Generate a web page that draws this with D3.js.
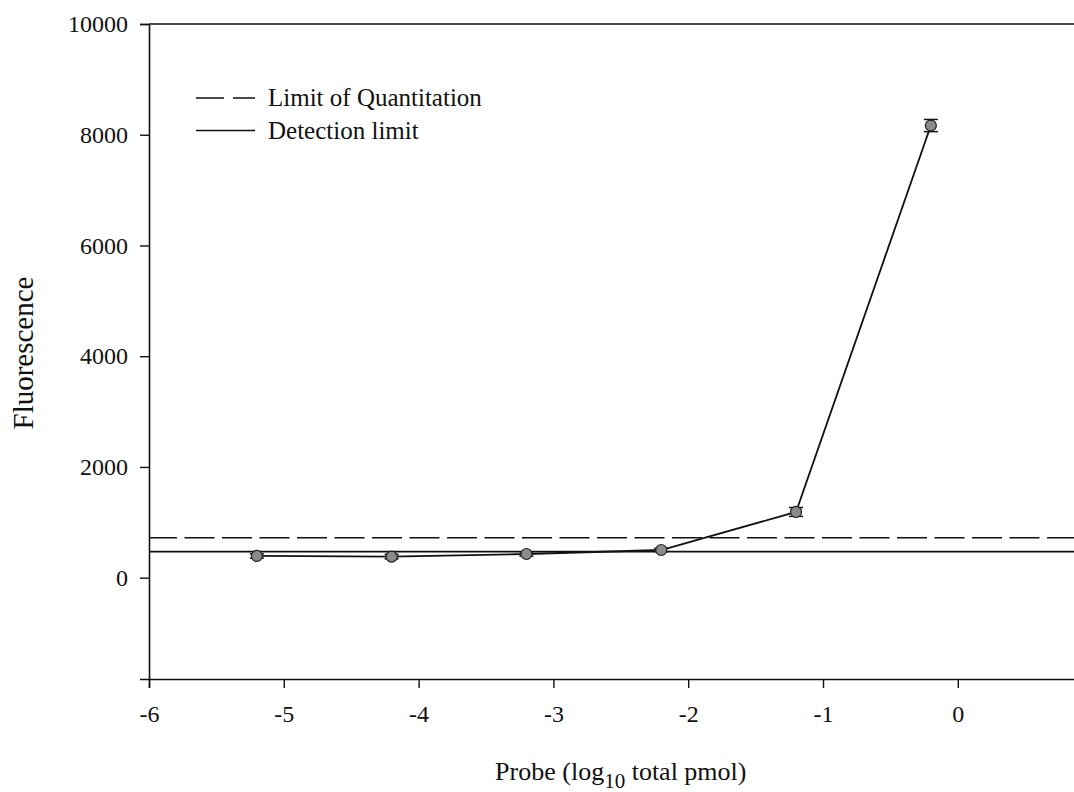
<!DOCTYPE html>
<html>
<head>
<meta charset="utf-8">
<script src="https://cdn.jsdelivr.net/npm/d3@7"></script>
<style>
  html, body { margin: 0; padding: 0; background: #fff; }
  svg { display: block; }
  text { font-family: "Liberation Serif", "Times New Roman", serif; fill: #111; }
</style>
</head>
<body>
<svg id="chart" width="1074" height="792"></svg>
<script>
// Probe amount (log10 total pmol) and measured fluorescence
const probeLog = [-5.2, -4.2, -3.2, -2.2, -1.2, -0.2];
const fluorescence = [392, 380, 428, 500, 1187, 8166];
const fluorescenceErr = [40, 40, 40, 30, 80, 110];

// Reference levels
const limitOfQuantitation = 722;
const detectionLimit = 470;

// Axis settings
const xDomain = [-6, 1];
const yDomain = [-1830, 10000];
const xTicks = [-6, -5, -4, -3, -2, -1, 0];
const yTicks = [0, 2000, 4000, 6000, 8000, 10000];

const legendItems = [
  { label: "Limit of Quantitation", dashed: true },
  { label: "Detection limit", dashed: false }
];

const svg = d3.select("#chart");
const plotLeft = 149, plotTop = 24, plotBottom = 679;
const unitPx = 134.8;

const x = d3.scaleLinear().domain(xDomain).range([plotLeft, plotLeft + unitPx * (xDomain[1] - xDomain[0])]);
const y = d3.scaleLinear().domain(yDomain).range([plotBottom, plotTop]);

const ink = "#111";
const plainNumber = d => String(d);

// Axes
const xAxis = svg.append("g")
  .attr("transform", `translate(0,${plotBottom})`)
  .call(d3.axisBottom(x).tickValues(xTicks).tickSize(9).tickPadding(12).tickFormat(plainNumber));
const yAxis = svg.append("g")
  .attr("transform", `translate(${plotLeft},0)`)
  .call(d3.axisLeft(y).tickValues(yTicks).tickSize(9).tickPadding(12).tickFormat(plainNumber));

[xAxis, yAxis].forEach(g => {
  g.select(".domain").attr("stroke", ink).attr("stroke-width", 1.6);
  g.selectAll(".tick line").attr("stroke", ink).attr("stroke-width", 1.4);
  g.selectAll(".tick text")
    .attr("fill", ink)
    .style("font-family", '"Liberation Serif", serif')
    .style("font-size", "24px");
});
xAxis.selectAll(".tick text").attr("dy", "0.9em");

// Top frame line
svg.append("line")
  .attr("x1", plotLeft).attr("x2", x(xDomain[1]))
  .attr("y1", y(yDomain[1])).attr("y2", y(yDomain[1]))
  .attr("stroke", ink).attr("stroke-width", 1.6);

// Reference lines
svg.append("line")
  .attr("x1", plotLeft).attr("x2", x(xDomain[1]))
  .attr("y1", y(limitOfQuantitation)).attr("y2", y(limitOfQuantitation))
  .attr("stroke", ink).attr("stroke-width", 1.6)
  .attr("stroke-dasharray", "30,7.5").attr("stroke-dashoffset", 2);
svg.append("line")
  .attr("x1", plotLeft).attr("x2", x(xDomain[1]))
  .attr("y1", y(detectionLimit)).attr("y2", y(detectionLimit))
  .attr("stroke", ink).attr("stroke-width", 1.6);

// Data line
const pts = probeLog.map((v, i) => ({ x: v, y: fluorescence[i], e: fluorescenceErr[i] }));
svg.append("path")
  .datum(pts)
  .attr("fill", "none")
  .attr("stroke", ink)
  .attr("stroke-width", 1.8)
  .attr("d", d3.line().x(d => x(d.x)).y(d => y(d.y)));

// Error bars
const eb = svg.append("g").attr("stroke", ink).attr("stroke-width", 1.5);
pts.forEach(d => {
  const cx = x(d.x);
  eb.append("line").attr("x1", cx).attr("x2", cx).attr("y1", y(d.y - d.e)).attr("y2", y(d.y + d.e));
  [d.y - d.e, d.y + d.e].forEach(v => {
    eb.append("line").attr("x1", cx - 7).attr("x2", cx + 7).attr("y1", y(v)).attr("y2", y(v));
  });
});

// Markers
svg.append("g").selectAll("circle")
  .data(pts)
  .join("circle")
  .attr("cx", d => x(d.x))
  .attr("cy", d => y(d.y))
  .attr("r", 5.5)
  .attr("fill", "#8a8a8a")
  .attr("stroke", "#222")
  .attr("stroke-width", 1.2);

// Legend
const legend = svg.append("g").attr("transform", "translate(196,98)");
legendItems.forEach((item, i) => {
  const row = legend.append("g").attr("transform", `translate(0,${i * 32.5})`);
  row.append("line")
    .attr("x1", 0).attr("x2", 59).attr("y1", 0).attr("y2", 0)
    .attr("stroke", ink).attr("stroke-width", 1.6)
    .attr("stroke-dasharray", item.dashed ? "28,9" : null);
  row.append("text")
    .attr("x", 72).attr("y", 0).attr("dy", "0.33em")
    .style("font-size", "25px")
    .text(item.label);
});

// Axis titles
const xTitle = svg.append("text")
  .attr("x", (plotLeft + x(xDomain[1])) / 2)
  .attr("y", 780)
  .attr("text-anchor", "middle")
  .style("font-size", "26px");
xTitle.append("tspan").text("Probe (log");
xTitle.append("tspan").attr("dy", 8).style("font-size", "21px").text("10");
xTitle.append("tspan").attr("dy", -8).text(" total pmol)");

svg.append("text")
  .attr("transform", `translate(33,353) rotate(-90)`)
  .attr("text-anchor", "middle")
  .style("font-size", "29px")
  .text("Fluorescence");
</script>
</body>
</html>
